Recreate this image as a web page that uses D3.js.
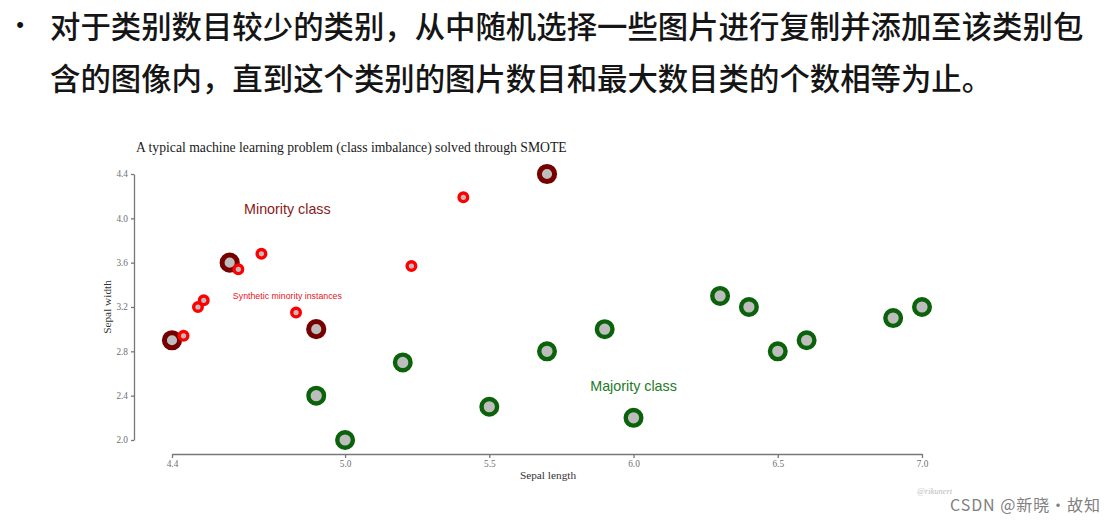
<!DOCTYPE html>
<html><head><meta charset="utf-8">
<script src="https://cdn.jsdelivr.net/npm/d3@7"></script>
<style>html,body{margin:0;padding:0;background:#fff;}svg{display:block;}</style>
</head><body>
<svg id="c" width="1115" height="524"></svg>
<script>
const headerLines = ["对于类别数目较少的类别，从中随机选择一些图片进行复制并添加至该类别包", "含的图像内，直到这个类别的图片数目和最大数目类的个数相等为止。"];
const chartTitle = "A typical machine learning problem (class imbalance) solved through SMOTE";
const xTicks = [4.4, 5.0, 5.5, 6.0, 6.5, 7.0];
const yTicks = [2.0, 2.4, 2.8, 3.2, 3.6, 4.0, 4.4];
const minorityX = [4.4, 4.6, 4.9, 5.7];
const minorityY = [2.9, 3.6, 3.0, 4.4];
const syntheticX = [4.44, 4.49, 4.51, 4.63, 4.71, 4.83, 5.23, 5.41];
const syntheticY = [2.94, 3.20, 3.26, 3.54, 3.68, 3.15, 3.57, 4.19];
const majorityX = [4.9, 5.0, 5.2, 5.5, 5.7, 5.9, 6.0, 6.3, 6.4, 6.5, 6.6, 6.9, 7.0];
const majorityY = [2.4, 2.0, 2.7, 2.3, 2.8, 3.0, 2.2, 3.3, 3.2, 2.8, 2.9, 3.1, 3.2];
const labels = [
  {text: "Minority class", x: 4.8, y: 4.04, cls: "min"},
  {text: "Synthetic minority instances", x: 4.8, y: 3.27, cls: "syn"},
  {text: "Majority class", x: 6.0, y: 2.445, cls: "maj"}
];

const svg = d3.select("#c");
// header text
svg.append("text").attr("x", 20).attr("y", 32).attr("text-anchor", "middle").attr("font-size", 22).attr("fill", "#111")
  .attr("font-family", "'Liberation Sans', Arial, sans-serif").text("•");
headerLines.forEach((t, i) => {
  svg.append("text").attr("x", 50).attr("y", 38 + i * 52)
    .attr("font-family", "'Noto Sans CJK SC'").attr("font-size", 30.4).attr("font-weight", 500)
    .attr("fill", "#151515").text(t);
});

const x = d3.scaleLinear().domain([4.4, 7.0]).range([172, 922]);
const y = d3.scaleLinear().domain([2.0, 4.4]).range([440, 174]);
const serif = "'Liberation Serif', 'DejaVu Serif', serif";

svg.append("text").attr("x", 136).attr("y", 152).attr("font-family", serif)
  .attr("font-size", 13.7).attr("fill", "#1a1a1a").text(chartTitle);

const gx = svg.append("g").attr("transform", "translate(0,454)")
  .call(d3.axisBottom(x).tickValues(xTicks).tickFormat(d3.format(".1f")).tickSize(4).tickSizeOuter(0).tickPadding(2));
const gy = svg.append("g").attr("transform", "translate(134,0)")
  .call(d3.axisLeft(y).tickValues(yTicks).tickFormat(d3.format(".1f")).tickSize(3).tickSizeOuter(0).tickPadding(3));
[gx, gy].forEach(g => {
  g.select(".domain").attr("stroke", "#777").attr("stroke-width", 1.3);
  g.selectAll(".tick line").attr("stroke", "#777").attr("stroke-width", 1.3);
  g.selectAll(".tick text").attr("font-family", serif).attr("font-size", 9.3).attr("fill", "#6e6e6e");
});

svg.append("text").attr("x", 548).attr("y", 479).attr("text-anchor", "middle")
  .attr("font-family", serif).attr("font-size", 11.3).attr("fill", "#333").text("Sepal length");
svg.append("text").attr("transform", "translate(111,307) rotate(-90)").attr("text-anchor", "middle")
  .attr("font-family", serif).attr("font-size", 11.3).attr("fill", "#333").text("Sepal width");

const grey = "#bdbdbd";
svg.append("g").selectAll("circle").data(majorityX.map((v, i) => [v, majorityY[i]])).join("circle")
  .attr("cx", d => x(d[0])).attr("cy", d => y(d[1])).attr("r", 7.8)
  .attr("fill", grey).attr("stroke", "#0a620a").attr("stroke-width", 4.4);
svg.append("g").selectAll("circle").data(minorityX.map((v, i) => [v, minorityY[i]])).join("circle")
  .attr("cx", d => x(d[0])).attr("cy", d => y(d[1])).attr("r", 7.6)
  .attr("fill", grey).attr("stroke", "#760000").attr("stroke-width", 5);
svg.append("g").selectAll("circle").data(syntheticX.map((v, i) => [v, syntheticY[i]])).join("circle")
  .attr("cx", d => x(d[0])).attr("cy", d => y(d[1])).attr("r", 4.3)
  .attr("fill", grey).attr("stroke", "#ff0000").attr("stroke-width", 3.4);

const sans = "'Liberation Sans', Arial, sans-serif";
const lab = {min: {fill: "#8a1a1a", size: 14.3}, syn: {fill: "#e8141c", size: 8.8}, maj: {fill: "#1e7a1e", size: 14.3}};
labels.forEach(l => {
  svg.append("text").attr("x", x(l.x)).attr("y", y(l.y)).attr("text-anchor", "middle")
    .attr("font-family", sans).attr("font-size", lab[l.cls].size).attr("fill", lab[l.cls].fill).text(l.text);
});

svg.append("text").attr("x", 917).attr("y", 494).attr("font-family", serif).attr("font-style", "italic")
  .attr("font-size", 8.5).attr("fill", "#bbb").text("@rikunert");
svg.append("text").attr("x", 950).attr("y", 511).attr("font-family", "'Noto Sans CJK SC'")
  .attr("font-size", 16).attr("fill", "#808080").attr("textLength", 150).attr("lengthAdjust", "spacing").text("CSDN @新晓·故知");
</script>
</body></html>
